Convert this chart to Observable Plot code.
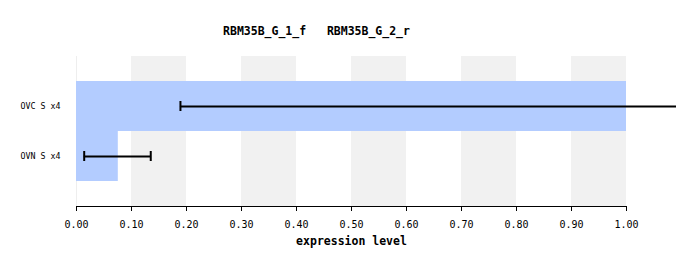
<!DOCTYPE html>
<html><head><meta charset="utf-8">
<script src="https://cdn.jsdelivr.net/npm/d3@7"></script>
<script src="https://cdn.jsdelivr.net/npm/@observablehq/plot@0.6"></script>
<style>body{margin:0;background:#fff}</style>
</head><body><div id="chart"></div>
<script>
const categories = ["OVC S x4", "OVN S x4"];
const values = [1.0, 0.076];
const errLow = [0.189, 0.014];
const errHigh = [1.2, 0.135];
const bandStarts = [0.1, 0.3, 0.5, 0.7, 0.9];
const bandEnds = [0.2, 0.4, 0.6, 0.8, 1.0];
const tickValues = [0, 0.1, 0.2, 0.3, 0.4, 0.5, 0.6, 0.7, 0.8, 0.9, 1.0];
const titleText = "RBM35B_G_1_f   RBM35B_G_2_r";
const xLabel = "expression level";

const rows = categories.map((c, i) => ({cat: c, v: values[i], lo: errLow[i], hi: errHigh[i]}));
const bands = bandStarts.map((s, i) => ({x1: s, x2: bandEnds[i]}));
const font = "DejaVu Sans Mono";

const chart = Plot.plot({
  width: 676, height: 266,
  marginLeft: 76, marginRight: 50, marginTop: 56, marginBottom: 60,
  style: {fontFamily: font, background: "#fff"},
  x: {domain: [0, 1]},
  y: {domain: categories, paddingInner: 0, paddingOuter: 0.5},
  marks: [
    Plot.rect(bands, {x1: "x1", x2: "x2", fill: "#f1f1f1"}),
    Plot.ruleX([0], {stroke: "#eeeeee"}),
    Plot.barX(rows, {y: "cat", x: "v", fill: "#b3ccff"}),
    Plot.ruleY(rows, {y: "cat", x1: "lo", x2: "hi", stroke: "#000", strokeWidth: 2}),
    Plot.tickX(rows, {y: "cat", x: "lo", stroke: "#000", strokeWidth: 2, insetTop: 20, insetBottom: 20}),
    Plot.tickX(rows, {y: "cat", x: "hi", stroke: "#000", strokeWidth: 2, insetTop: 20, insetBottom: 20}),
    Plot.frame({anchor: "bottom", stroke: "#000"}),
    Plot.axisX({ticks: tickValues, tickFormat: d3.format(".2f"), tickSize: 5, tickPadding: 9, fontSize: 10, label: null}),
    Plot.text([xLabel], {frameAnchor: "bottom", dy: 38, fontWeight: "bold", fontSize: 11.5, fill: "#000"}),
    Plot.axisY({tickSize: 0, tickPadding: 16, fontSize: 8.3, label: null}),
    Plot.text([titleText], {frameAnchor: "top", dy: -30, dx: -35, fontWeight: "bold", fontSize: 11.5, fill: "#000"})
  ]
});
document.getElementById("chart").append(chart);
</script>
</body></html>
